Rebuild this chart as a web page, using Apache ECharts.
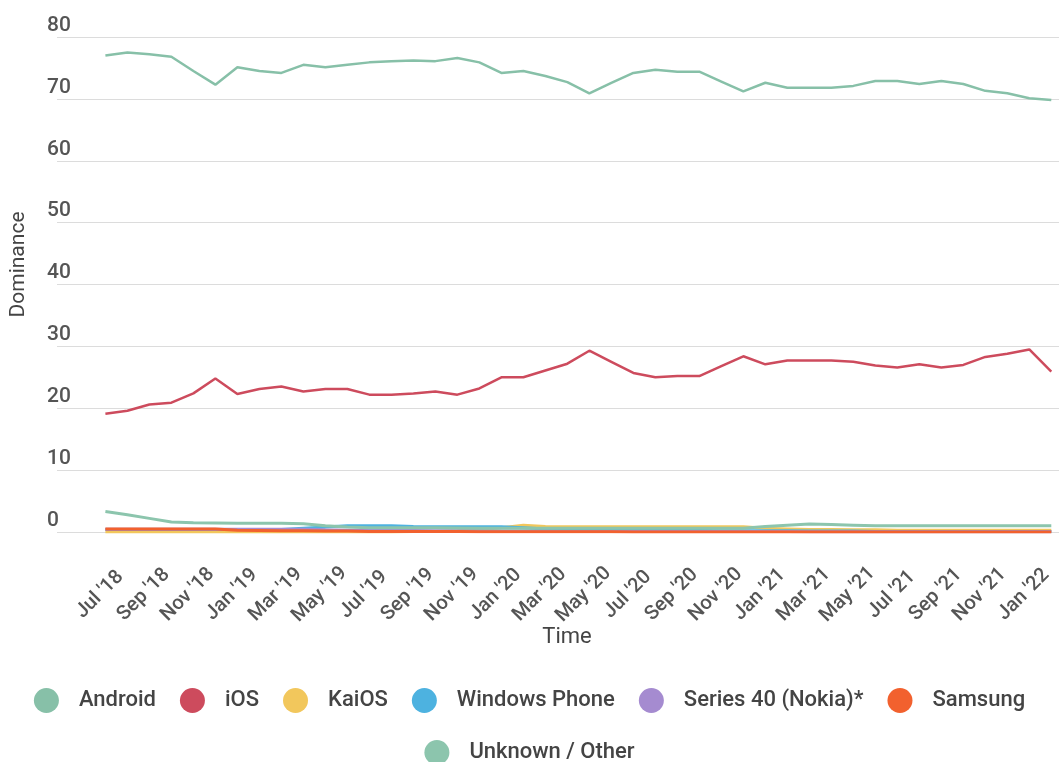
<!DOCTYPE html>
<html>
<head>
<meta charset="utf-8">
<title>Mobile OS dominance</title>
<script src="https://cdn.jsdelivr.net/npm/echarts@6.0.0/dist/echarts.min.js"></script>
<style>
  html, body { margin: 0; padding: 0; background: #fff; }
  #main { width: 1059px; height: 762px; }
</style>
</head>
<body>
<div id="main"></div>
<script>
// months, Jul '18 .. Feb '22
var months = ["Jul '18","Aug '18","Sep '18","Oct '18","Nov '18","Dec '18",
  "Jan '19","Feb '19","Mar '19","Apr '19","May '19","Jun '19","Jul '19","Aug '19","Sep '19","Oct '19","Nov '19","Dec '19",
  "Jan '20","Feb '20","Mar '20","Apr '20","May '20","Jun '20","Jul '20","Aug '20","Sep '20","Oct '20","Nov '20","Dec '20",
  "Jan '21","Feb '21","Mar '21","Apr '21","May '21","Jun '21","Jul '21","Aug '21","Sep '21","Oct '21","Nov '21","Dec '21",
  "Jan '22","Feb '22"];

var android = [77.0, 77.5, 77.2, 76.8, 74.5, 72.3, 75.1, 74.5, 74.2, 75.5,
  75.1, 75.5, 75.9, 76.1, 76.2, 76.1, 76.6, 75.9, 74.2, 74.5,
  73.7, 72.7, 70.9, 72.6, 74.2, 74.7, 74.4, 74.4, 72.8, 71.2,
  72.6, 71.8, 71.8, 71.8, 72.1, 72.9, 72.9, 72.4, 72.9, 72.4, 71.3, 70.9, 70.1, 69.8];

var ios = [19.1, 19.6, 20.6, 20.9, 22.4, 24.8, 22.3, 23.1, 23.5, 22.7,
  23.1, 23.1, 22.2, 22.2, 22.4, 22.7, 22.2, 23.2, 25.0, 25.0,
  26.1, 27.2, 29.3, 27.5, 25.7, 25.0, 25.2, 25.2, 26.8, 28.4,
  27.1, 27.7, 27.7, 27.7, 27.5, 26.9, 26.6, 27.1, 26.6, 27.0, 28.3, 28.8, 29.5, 25.9];

var kaios = [0, 0, 0, 0, 0, 0, 0, 0, 0, 0,
  0, 0, 0, 0, 0.1, 0.1, 0.2, 0.4, 0.7, 1.1,
  0.9, 0.85, 0.85, 0.85, 0.85, 0.85, 0.85, 0.85, 0.85, 0.85,
  0.6, 0.5, 0.4, 0.4, 0.35, 0.35, 0.3, 0.3, 0.3, 0.3, 0.3, 0.3, 0.3, 0.3];

var windowsPhone = [0.4, 0.4, 0.4, 0.4, 0.4, 0.4, 0.4, 0.4, 0.4, 0.6,
  0.8, 1.0, 1.0, 1.0, 0.9, 0.85, 0.85, 0.85, 0.85, 0.7,
  0.5, 0.4, 0.35, 0.3, 0.3, 0.3, 0.25, 0.25, 0.2, 0.2,
  0.2, 0.2, 0.15, 0.15, 0.15, 0.1, 0.1, 0.1, 0.1, 0.1, 0.1, 0.1, 0.1, 0.1];

var series40 = [0.45, 0.45, 0.45, 0.45, 0.45, 0.45, 0.45, 0.45, 0.45, 0.45,
  0.35, 0.3, 0.3, 0.25, 0.25, 0.2, 0.2, 0.2, 0.15, 0.15,
  0.15, 0.1, 0.1, 0.1, 0.1, 0.1, 0.1, 0.1, 0.1, 0.1,
  0.1, 0.1, 0.05, 0.05, 0.05, 0.05, 0.05, 0.05, 0.05, 0.05, 0.05, 0.05, 0.05, 0.05];

var samsung = [0.5, 0.5, 0.5, 0.5, 0.5, 0.5, 0.3, 0.25, 0.2, 0.2,
  0.15, 0.15, 0.1, 0.1, 0.1, 0.1, 0.1, 0.05, 0.05, 0.05,
  0.05, 0.05, 0.05, 0.05, 0, 0, 0, 0, 0, 0,
  0, 0, 0, 0, 0, 0, 0, 0, 0, 0, 0, 0, 0, 0];

var unknownOther = [3.3, 2.8, 2.2, 1.6, 1.5, 1.45, 1.4, 1.4, 1.4, 1.35,
  1.0, 0.8, 0.7, 0.7, 0.7, 0.7, 0.65, 0.6, 0.6, 0.6,
  0.6, 0.6, 0.6, 0.6, 0.6, 0.6, 0.6, 0.6, 0.6, 0.6,
  0.9, 1.1, 1.3, 1.2, 1.1, 1.0, 1.0, 1.0, 1.0, 1.0, 1.0, 1.0, 1.0, 1.0];

var yTicks = [0, 10, 20, 30, 40, 50, 60, 70, 80];

var names = ['Android', 'iOS', 'KaiOS', 'Windows Phone', 'Series 40 (Nokia)*', 'Samsung', 'Unknown / Other'];
var values = [android, ios, kaios, windowsPhone, series40, samsung, unknownOther];
var colors = ['#87c0a8', '#cd4b5d', '#f2c75c', '#4db2e0', '#a58bd0', '#f2612e', '#8cc5ad'];

// every second month gets a label
var labelAt = months.map(function (m, i) { return i; }).filter(function (i) { return i % 2 === 0; });

var legendText = { fontSize: 22, fontWeight: 500, color: '#444', padding: [0, 0, 0, 15] };

var chart = echarts.init(document.getElementById('main'));

chart.setOption({
  animation: false,
  textStyle: { fontFamily: 'Roboto, sans-serif' },
  grid: { left: 46, right: 0, top: 37, bottom: 230 },
  legend: [{
    data: names.slice(0, 6),
    top: 683, left: 'center',
    icon: 'circle', itemWidth: 25, itemHeight: 25, itemGap: 24,
    textStyle: legendText
  }, {
    data: names.slice(6),
    top: 735, left: 'center',
    icon: 'circle', itemWidth: 25, itemHeight: 25,
    textStyle: legendText
  }],
  xAxis: {
    type: 'value',
    min: -2.2, max: 43.35,
    name: 'Time', nameLocation: 'middle', nameGap: 94, nameMoveOverlap: false,
    nameTextStyle: { fontSize: 22, color: '#444', padding: [0, 0, 0, 18] },
    axisLine: { show: false }, axisTick: { show: false }, splitLine: { show: false },
    axisLabel: {
      customValues: labelAt,
      formatter: function (v) { return months[v] || ''; },
      rotate: 45, align: 'center', verticalAlign: 'middle', margin: 57,
      padding: [0, 16, 0, 0],
      fontSize: 20, fontWeight: 500, color: '#555'
    }
  },
  yAxis: {
    type: 'value', min: yTicks[0], max: yTicks[yTicks.length - 1], interval: 10,
    name: 'Dominance', nameLocation: 'middle', nameGap: 28,
    nameTextStyle: { fontSize: 21, color: '#444', padding: [0, 0, 0, 40] },
    axisLine: { show: false }, axisTick: { show: false },
    splitLine: { lineStyle: { color: '#dcdcdc', width: 1 } },
    axisLabel: {
      inside: true, verticalAlign: 'bottom', margin: -10, padding: [0, 0, 1, 0],
      fontSize: 21, fontWeight: 500, color: '#555'
    }
  },
  series: names.map(function (n, k) {
    return {
      name: n, type: 'line', symbol: 'none', color: colors[k],
      lineStyle: { width: k < 2 ? 2.5 : 3 },
      data: values[k].map(function (v, i) { return [i, v]; })
    };
  })
});
</script>
</body>
</html>
